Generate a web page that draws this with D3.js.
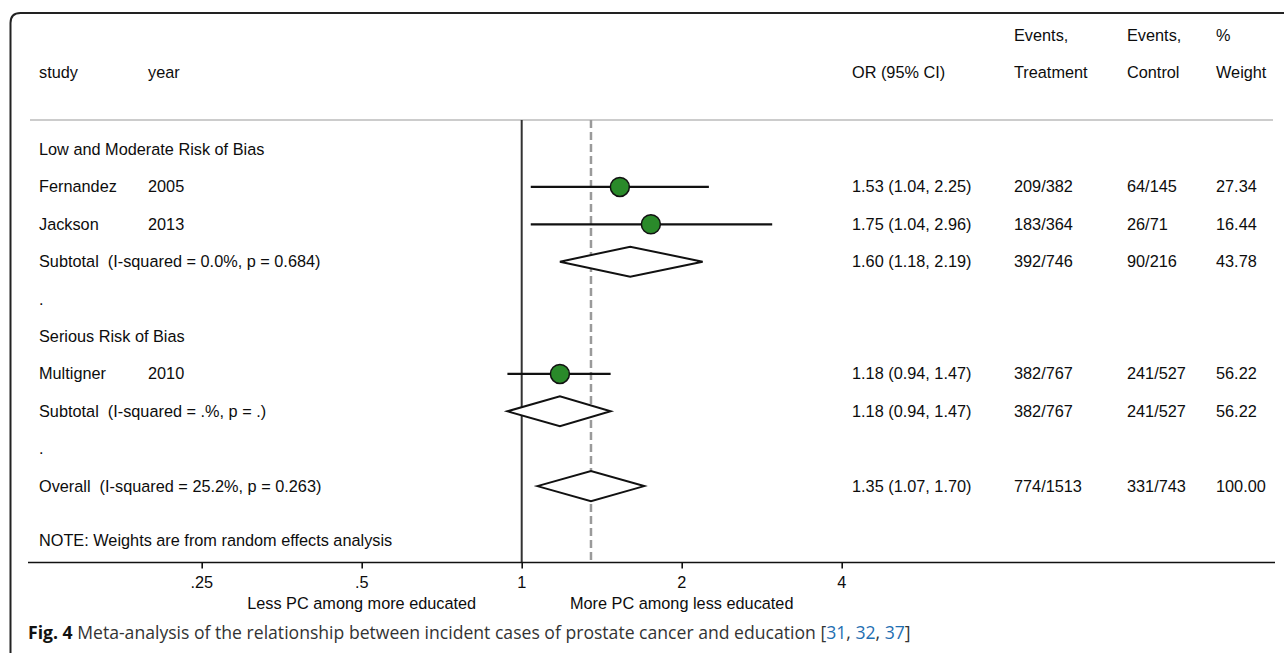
<!DOCTYPE html>
<html>
<head>
<meta charset="utf-8">
<script src="https://cdn.jsdelivr.net/npm/d3@7"></script>
<style>
  body { margin: 0; background: #fff; }
  svg text { font-family: "Liberation Sans", Arial, sans-serif; fill: #0d0d0d; white-space: pre; }
</style>
</head>
<body>
<svg id="chart" width="1284" height="653"></svg>
<script>
// rows of the forest plot, top to bottom
const rowLabels = ["Low and Moderate Risk of Bias", "Fernandez", "Jackson",
  "Subtotal  (I-squared = 0.0%, p = 0.684)", ".", "Serious Risk of Bias", "Multigner",
  "Subtotal  (I-squared = .%, p = .)", ".", "Overall  (I-squared = 25.2%, p = 0.263)"];
const rowYears = ["", "2005", "2013", "", "", "", "2010", "", "", ""];
const rowType = ["head", "study", "study", "pool", "blank", "head", "study", "pool", "blank", "pool"];
const orEst = [null, 1.53, 1.75, 1.60, null, null, 1.18, 1.18, null, 1.35];
const orLow = [null, 1.04, 1.04, 1.18, null, null, 0.94, 0.94, null, 1.07];
const orHigh = [null, 2.25, 2.96, 2.19, null, null, 1.47, 1.47, null, 1.70];
const eventsT = ["", "209/382", "183/364", "392/746", "", "", "382/767", "382/767", "", "774/1513"];
const eventsC = ["", "64/145", "26/71", "90/216", "", "", "241/527", "241/527", "", "331/743"];
const weights = ["", "27.34", "16.44", "43.78", "", "", "56.22", "56.22", "", "100.00"];
const overallOR = 1.35;

const tickValues = [0.25, 0.5, 1, 2, 4];
const tickLabels = [".25", ".5", "1", "2", "4"];
const favourLeft = "Less PC among more educated";
const favourRight = "More PC among less educated";

const svg = d3.select("#chart");

const x = d3.scaleLog().base(2).domain([0.25, 4]).range([201.7, 841.7]);
const y = d3.scaleLinear().domain([0, 9]).range([149.5, 486.1]);

const plotTop = 120, axisY = 562.5;

// frame
svg.append("path")
  .attr("d", "M10.5,653 L10.5,23 Q10.5,13 20.5,13 L1284,13")
  .attr("fill", "none").attr("stroke", "#222").attr("stroke-width", 2);

// header
const header = svg.append("g").style("font-size", "16.3px");
header.append("text").attr("x", 39).attr("y", 78).text("study");
header.append("text").attr("x", 148).attr("y", 78).text("year");
header.append("text").attr("x", 852).attr("y", 78).text("OR (95% CI)");
header.append("text").attr("x", 1014).attr("y", 41).text("Events,");
header.append("text").attr("x", 1014).attr("y", 78).text("Treatment");
header.append("text").attr("x", 1127).attr("y", 41).text("Events,");
header.append("text").attr("x", 1127).attr("y", 78).text("Control");
header.append("text").attr("x", 1216).attr("y", 41).text("%");
header.append("text").attr("x", 1216).attr("y", 78).text("Weight");

svg.append("line")
  .attr("x1", 30).attr("x2", 1273).attr("y1", plotTop).attr("y2", plotTop)
  .attr("stroke", "#bbb").attr("stroke-width", 1.5);

// null line and overall line
svg.append("line")
  .attr("x1", x(1)).attr("x2", x(1)).attr("y1", plotTop).attr("y2", axisY)
  .attr("stroke", "#333").attr("stroke-width", 2);
svg.append("line")
  .attr("x1", x(overallOR)).attr("x2", x(overallOR)).attr("y1", plotTop).attr("y2", axisY)
  .attr("stroke", "#9a9a9a").attr("stroke-width", 2.5).attr("stroke-dasharray", "8,4");

const idx = d3.range(rowLabels.length);

// row text
const rows = svg.append("g").style("font-size", "16.3px");
rows.selectAll("text.label").data(idx).enter().append("text")
  .attr("class", "label")
  .attr("x", 39).attr("y", i => y(i) + 5.5)
  .text(i => rowLabels[i]);
rows.selectAll("text.year").data(idx.filter(i => rowYears[i])).enter().append("text")
  .attr("class", "year")
  .attr("x", 148).attr("y", i => y(i) + 5.5)
  .text(i => rowYears[i]);

const est = idx.filter(i => orEst[i] !== null);
rows.selectAll("text.ci").data(est).enter().append("text")
  .attr("x", 852).attr("y", i => y(i) + 5.5)
  .text(i => `${orEst[i].toFixed(2)} (${orLow[i].toFixed(2)}, ${orHigh[i].toFixed(2)})`);
rows.selectAll("text.et").data(est).enter().append("text")
  .attr("x", 1014).attr("y", i => y(i) + 5.5).text(i => eventsT[i]);
rows.selectAll("text.ec").data(est).enter().append("text")
  .attr("x", 1127).attr("y", i => y(i) + 5.5).text(i => eventsC[i]);
rows.selectAll("text.w").data(est).enter().append("text")
  .attr("x", 1216).attr("y", i => y(i) + 5.5).text(i => weights[i]);

rows.append("text").attr("x", 39).attr("y", 546)
  .text("NOTE: Weights are from random effects analysis");

// study CIs and points
const studies = idx.filter(i => rowType[i] === "study");
svg.selectAll("line.ci").data(studies).enter().append("line")
  .attr("x1", i => x(orLow[i])).attr("x2", i => x(orHigh[i]))
  .attr("y1", i => y(i)).attr("y2", i => y(i))
  .attr("stroke", "#111").attr("stroke-width", 2.2);
svg.selectAll("circle").data(studies).enter().append("circle")
  .attr("cx", i => x(orEst[i])).attr("cy", i => y(i)).attr("r", 9.5)
  .attr("fill", "#2a8a2a").attr("stroke", "#111").attr("stroke-width", 1.5);

// pooled diamonds
const pooled = idx.filter(i => rowType[i] === "pool");
svg.selectAll("path.diamond").data(pooled).enter().append("path")
  .attr("d", i => `M${x(orLow[i])},${y(i)} L${x(orEst[i])},${y(i) - 15} L${x(orHigh[i])},${y(i)} L${x(orEst[i])},${y(i) + 15} Z`)
  .attr("fill", "#fff").attr("stroke", "#111").attr("stroke-width", 2);

// axis: ticks from d3, labels drawn at the same scale positions
svg.append("line")
  .attr("x1", 28).attr("x2", 1275).attr("y1", axisY).attr("y2", axisY)
  .attr("stroke", "#111").attr("stroke-width", 1.6);
const axis = d3.axisBottom(x).tickValues(tickValues).tickFormat("").tickSize(6);
svg.append("g")
  .attr("transform", `translate(0,${axisY})`)
  .call(axis)
  .call(g => g.select(".domain").remove())
  .call(g => g.selectAll(".tick line").attr("stroke", "#111").attr("stroke-width", 1.6));

svg.append("g").selectAll("text").data(tickValues).enter().append("text")
  .attr("x", d => x(d)).attr("y", 587.5).attr("text-anchor", "middle")
  .style("font-size", "16.3px")
  .text((d, i) => tickLabels[i]);

svg.append("text").attr("x", x(0.5)).attr("y", 609).attr("text-anchor", "middle")
  .style("font-size", "16.3px").text(favourLeft);
svg.append("text").attr("x", x(2)).attr("y", 609).attr("text-anchor", "middle")
  .style("font-size", "16.3px").text(favourRight);

// caption
const cap = svg.append("text").attr("x", 28).attr("y", 639)
  .style("font-family", "'Open Sans', 'Noto Sans', sans-serif").style("font-size", "17.6px");
cap.append("tspan").style("font-weight", "bold").attr("fill", "#111").text("Fig. 4");
cap.append("tspan").attr("fill", "#333")
  .text(" Meta-analysis of the relationship between incident cases of prostate cancer and education [");
["31", ", ", "32", ", ", "37"].forEach(t => {
  cap.append("tspan").attr("fill", t.trim() === "," ? "#333" : "#1f6fb2").text(t);
});
cap.append("tspan").attr("fill", "#333").text("]");
</script>
</body>
</html>
